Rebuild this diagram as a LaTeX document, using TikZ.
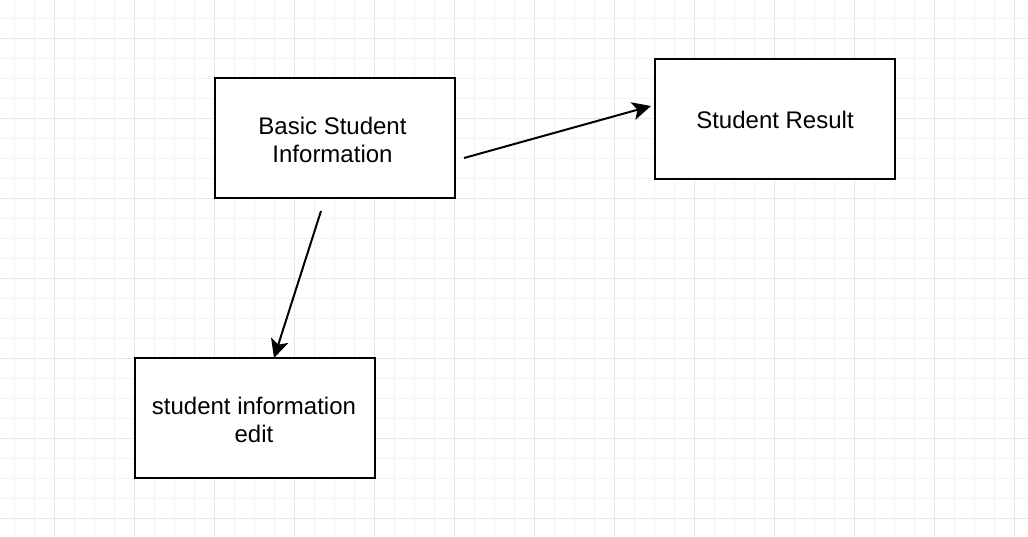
\documentclass[tikz,border=0pt]{standalone}
\usepackage{fontspec}
\setmainfont{Liberation Sans}
\usetikzlibrary{arrows.meta}
\definecolor{gridminor}{HTML}{F4F4F4}
\definecolor{gridmajor}{HTML}{E8E8E8}
\tikzset{
  boxnode/.style={draw=black, line width=1.5pt, fill=white, minimum width=180pt, minimum height=90pt,
    inner sep=0pt, align=center, font=\fontsize{18}{21.6}\selectfont},
  conn/.style={line width=1.5pt, -{Stealth[length=14pt, width=13.5pt, inset=3.5pt]}}
}
\begin{document}
\begin{tikzpicture}[x=0.75pt, y=-0.75pt]
\useasboundingbox (0,0) rectangle (1028,536);
\fill[white] (0,0) rectangle (1028,536);
% minor grid
\foreach \x in {14,34,...,1028} \draw[gridminor, line width=0.75pt] (\x,0) -- (\x,536);
\foreach \y in {18,38,...,536} \draw[gridminor, line width=0.75pt] (0,\y) -- (1028,\y);
% major grid
\foreach \x in {54,134,...,1028} \draw[gridmajor, line width=0.75pt] (\x,0) -- (\x,536);
\foreach \y in {38,118,...,536} \draw[gridmajor, line width=0.75pt] (0,\y) -- (1028,\y);
% boxes
\node[boxnode] (basic) at (334.5,138) {};
\node[font=\fontsize{18}{21.6}\selectfont, align=center, inner sep=0pt] (basictext) at (332.5,140) {Basic Student\\Information};
\node[boxnode] (result) at (775,119) {};
\node[font=\fontsize{18}{21.6}\selectfont, inner sep=0pt] (resulttext) at (775,120) {Student Result};
\node[boxnode] (edit) at (255,418) {};
\node[font=\fontsize{18}{21.6}\selectfont, align=center, inner sep=0pt] (edittext) at (254,420) {student information\\edit};
% connector end points
\coordinate (a1s) at (464,158);
\coordinate (a1e) at (651,106);
\coordinate (a2s) at (321,211);
\coordinate (a2e) at (274,358);
\draw[conn] (a1s) -- (a1e);
\draw[conn] (a2s) -- (a2e);
\end{tikzpicture}
\end{document}
